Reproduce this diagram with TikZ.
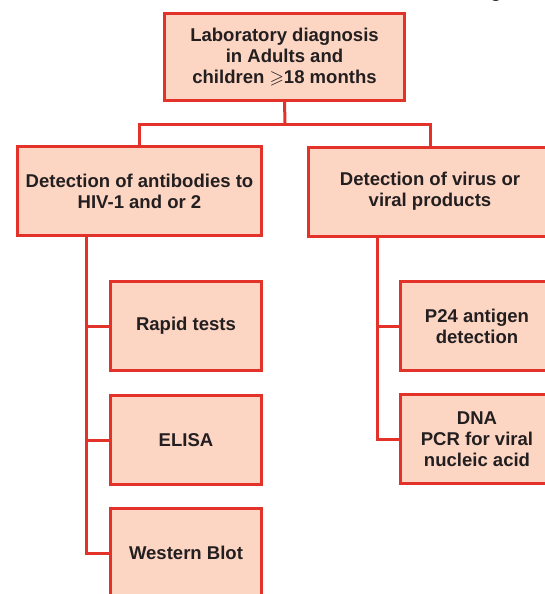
\documentclass[tikz,border=0pt]{standalone}
\usepackage{fontspec}
\usepackage{amssymb}
\setmainfont{Liberation Sans}
\definecolor{boxred}{HTML}{E2322A}
\definecolor{boxfill}{HTML}{FDD5C3}
\definecolor{txtc}{HTML}{231F20}
\begin{document}
\begin{tikzpicture}[x=0.75pt,y=-0.75pt,
  box/.style={draw=boxred, fill=boxfill, line width=2.25pt, rectangle, align=center,
    inner sep=0pt, outer sep=0pt, text=txtc,
    font=\fontsize{13.9}{15.75}\selectfont\bfseries},
  topbox/.style={box, minimum width=180pt, minimum height=65.25pt},
  midbox/.style={box, minimum width=183pt, minimum height=66.75pt},
  kidbox/.style={box, minimum width=113.25pt, minimum height=66.75pt},
  kidboxr/.style={box, minimum width=114.75pt, minimum height=66.75pt},
  link/.style={draw=boxred, line width=2.25pt}]
\useasboundingbox (0,0) rectangle (545,594);
\clip (0,0) rectangle (545,594);
% cut-off caption fragment
\node[anchor=base, inner sep=0pt, text=txtc, font=\fontsize{13.9}{15.75}\selectfont\bfseries] (frag) at (496,-2.5) {g};
% coordinates
\coordinate (bus) at (285,124);
\coordinate (lx) at (86,0);
\coordinate (rx) at (377,0);
\node[topbox] (top) at (284.5,57) {Laboratory diagnosis\\in Adults and\\children $\geqslant$18 months};
\node[midbox] (left) at (139.5,191) {Detection of antibodies to\\HIV-1 and or 2};
\node[midbox] (right) at (430,191.5) {Detection of virus or\\viral products};
\node[kidbox] (rapid) at (186,326) {Rapid tests};
\node[kidbox] (elisa) at (186,440) {ELISA};
\node[kidbox] (wb) at (186,553) {Western Blot};
\node[kidboxr] (p24) at (477,326) {P24 antigen\\detection};
\node[kidboxr] (dna) at (477,439) {DNA\\PCR for viral\\nucleic acid};
\draw[link] (top.south) -- (bus);
\draw[link] (left.north) |- (bus) -| (right.north);
\draw[link] (left.south -| lx) |- (rapid.west);
\draw[link] (left.south -| lx) |- (elisa.west);
\draw[link] (left.south -| lx) |- (wb.west);
\draw[link] (right.south -| rx) |- (p24.west);
\draw[link] (right.south -| rx) |- (dna.west);
\end{tikzpicture}
\end{document}
